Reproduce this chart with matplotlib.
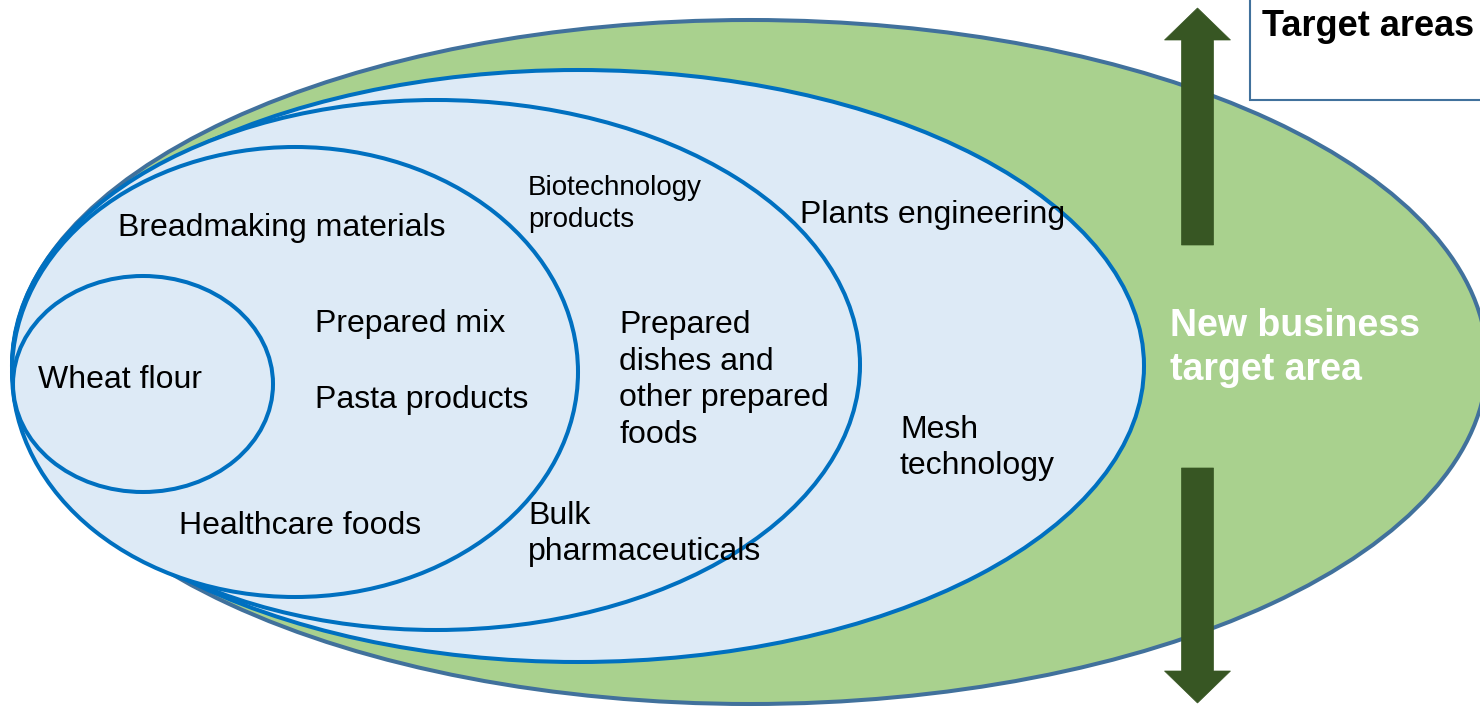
import matplotlib
matplotlib.use("Agg")
from matplotlib import pyplot as plt
from matplotlib.patches import Ellipse, FancyArrow, Rectangle

plt.rcParams['font.family'] = ['Liberation Sans', 'DejaVu Sans']

# nested business areas, innermost first
areas = ["Wheat flour", "Breadmaking", "Biotechnology", "Plants engineering"]
area_centers = [(143, 384), (295, 372), (436, 365), (578, 366)]
area_sizes = [(260, 216), (566, 450), (848, 530), (1132, 592)]

outer_center = (750, 362)
outer_size = (1474, 684)

labels = ["Breadmaking materials", "Prepared mix", "Pasta products", "Wheat flour",
          "Healthcare foods", "Prepared\ndishes and\nother prepared\nfoods",
          "Bulk\npharmaceuticals", "Plants engineering", "Mesh\ntechnology"]
label_pos = [(118, 228), (315, 324), (315, 400), (38, 380), (179, 526),
             (619, 380), (528, 534), (800, 215), (900, 448)]

small_label = "Biotechnology\nproducts"
new_area_label = "New business\ntarget area"
box_title = "Target areas"

fig = plt.figure(figsize=(14.8, 7.07), dpi=100)
ax = fig.add_axes([0, 0, 1, 1])
ax.set_xlim(0, 1480)
ax.set_ylim(707, 0)
ax.axis('off')

ax.add_patch(Ellipse(outer_center, outer_size[0], outer_size[1],
                     facecolor='#A9D18E', edgecolor='#41719C', lw=2.9, zorder=1))

for i in range(len(areas) - 1, -1, -1):
    c = area_centers[i]
    w, h = area_sizes[i]
    ax.add_patch(Ellipse(c, w, h, facecolor='#DDEAF6', edgecolor='#0070C0',
                         lw=2.9, zorder=2 + (len(areas) - i)))

for text, (x, y) in zip(labels, label_pos):
    ax.text(x, y, text, fontsize=23, ha='left', va='center',
            linespacing=1.3, zorder=10)

ax.text(528, 204, small_label, fontsize=20, ha='left', va='center',
        linespacing=1.3, zorder=10)
ax.text(1170, 348, new_area_label, fontsize=27, fontweight='bold', color='white',
        ha='left', va='center', linespacing=1.32, zorder=10)

# arrows
ax.add_patch(FancyArrow(1197.5, 245, 0, -237, width=32, head_width=66,
                        head_length=32, length_includes_head=True,
                        facecolor='#375623', edgecolor='#375623', lw=0.5, zorder=11))
ax.add_patch(FancyArrow(1197.5, 468, 0, 235, width=32, head_width=66,
                        head_length=32, length_includes_head=True,
                        facecolor='#375623', edgecolor='#375623', lw=0.5, zorder=11))

ax.add_patch(Rectangle((1250, -5), 260, 105, facecolor='white', edgecolor='#41719C',
                       lw=1.5, zorder=12))
ax.text(1262, 27, box_title, fontsize=26, fontweight='bold', ha='left', va='center',
        zorder=13)

fig.savefig('out.png', dpi=100)
